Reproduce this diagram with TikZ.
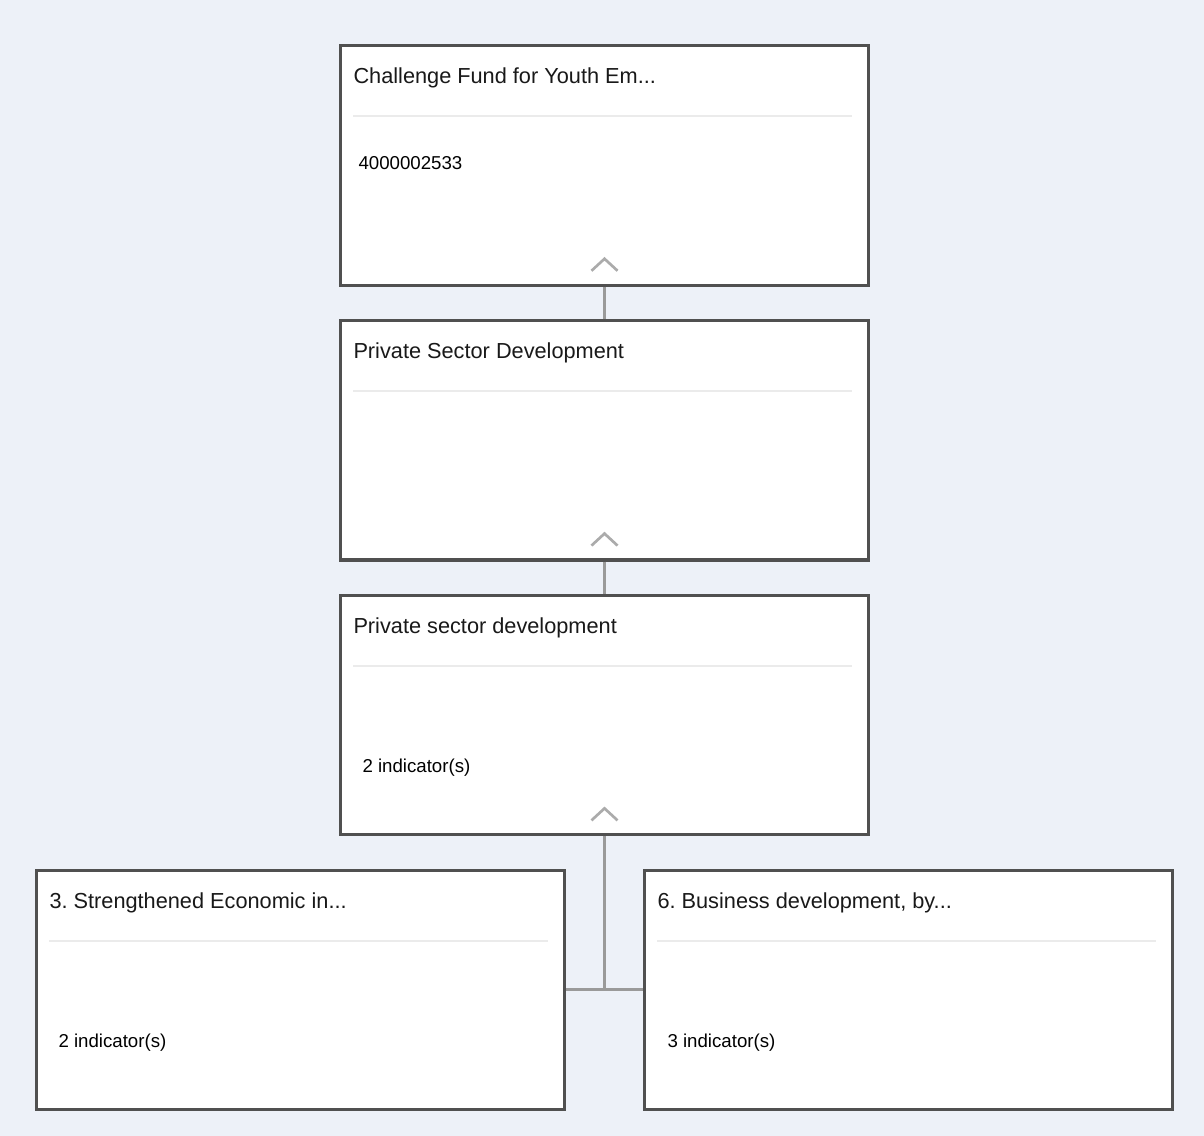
\documentclass[tikz,border=0pt]{standalone}
\usepackage{fontspec}
\setmainfont{Liberation Sans}
\usetikzlibrary{positioning,calc}
\definecolor{pagebg}{HTML}{EDF1F8}
\definecolor{cardline}{HTML}{505050}
\definecolor{linkgray}{HTML}{9A9A9A}
\definecolor{rulegray}{HTML}{EBEBEB}
\definecolor{chevgray}{HTML}{ABABAB}
\frenchspacing

\begin{document}
\begin{tikzpicture}[
x = 0.75pt, y = -0.75pt,
node distance = 24.2pt,
every node/.style = {
	font = \fontsize{14}{17}\selectfont
},
card/.style = {
	draw = cardline,
	line width = 2.4pt,
	fill = white,
	minimum width = 395.5pt,
	minimum height = 179.5pt,
	inner sep = 0pt
},
title/.style = {
	anchor = west,
	inner sep = 0pt,
	text = black!90,
	font = \fontsize{16.3}{19}\selectfont
},
info/.style = {
	anchor = west,
	inner sep = 0pt
},
rule/.style = {
	draw = rulegray,
	line width = 1.5pt
},
chev/.style = {
	draw = chevgray,
	line width = 2pt
},
link/.style = {
	draw = linkgray,
	line width = 2.25pt
}
]

\fill[pagebg] (0,0) rectangle (1204,1136);
\useasboundingbox (0,0) rectangle (1204,1136);

% cards
\node (fund) [card] at (604.5,165.5) {};
\node (psd) [card, below = of fund] {};
\node (pscd) [card, below = of psd] {};
\node (econ) [card, below = of pscd, xshift = -228pt] {};
\node (biz) [card, below = of pscd, xshift = 228pt] {};

% connectors
\draw[link] (fund) -- (psd);
\draw[link] (psd) -- (pscd);
\draw[link] (econ.east) -- (biz.west);
\draw[link] (pscd.south) -- (pscd.south |- econ.east);

% titles and separators
\foreach \c/\t in {fund/{Challenge Fund for Youth Em...}, psd/{Private Sector Development}, pscd/{Private sector development}, econ/{3. Strengthened Economic in...}, biz/{6. Business development, by...}} {
	\node (\c title) [title] at ($(\c.north west)+(14,34)$) {\t};
	\draw[rule] ($(\c.north west)+(14,72)$) -- ($(\c.north east)+(-18,72)$);
}

% card details
\node (fundcode) [info] at ($(fund.north west)+(19,119)$) {4000002533};
\node (pscdind) [info] at ($(pscd.north west)+(23,174)$) {2 indicator(s)};
\node (econind) [info] at ($(econ.north west)+(23,174)$) {2 indicator(s)};
\node (bizind) [info] at ($(biz.north west)+(24,174)$) {3 indicator(s)};

% collapse chevrons
\foreach \c in {fund, psd, pscd} {
	\draw[chev] ($(\c.south)+(-13,-16)$) -- ++(13,-12) -- ++(13,12);
}

\end{tikzpicture}
\end{document}
